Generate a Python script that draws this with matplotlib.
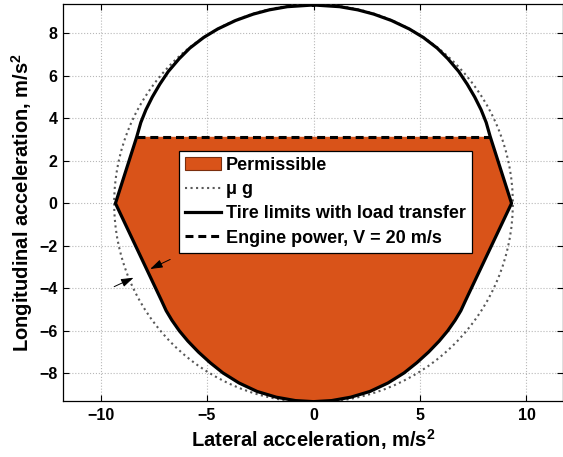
import numpy as np
import matplotlib
matplotlib.use('Agg')
import matplotlib.pyplot as plt
from matplotlib.patches import Circle, Patch
from matplotlib.lines import Line2D

# friction circle radius (mu*g), m/s^2
mu_g = 9.36

# tire limits with load transfer, closed curve clockwise from the top
tire_x = [0.00, 1.23, 2.08, 2.83, 3.66, 4.50, 5.16, 5.81, 6.31, 6.82,
          7.22, 7.57, 7.87, 8.11, 8.30, 9.30, 7.15, 6.92, 6.65, 6.30,
          5.90, 5.40, 4.85, 4.25, 3.50, 2.65, 1.75, 0.85, 0.00,
          -0.85, -1.75, -2.65, -3.50, -4.25, -4.85, -5.40, -5.90, -6.30, -6.65,
          -6.92, -7.15, -9.30, -8.30, -8.11, -7.87, -7.57, -7.22, -6.82, -6.31,
          -5.81, -5.16, -4.50, -3.66, -2.83, -2.08, -1.23, 0.00]
tire_y = [9.33, 9.25, 9.10, 8.90, 8.60, 8.20, 7.80, 7.30, 6.80, 6.20,
          5.60, 5.00, 4.40, 3.80, 3.13, 0.00, -4.55, -5.05, -5.50, -6.00,
          -6.48, -7.00, -7.50, -7.98, -8.45, -8.85, -9.12, -9.28, -9.33,
          -9.28, -9.12, -8.85, -8.45, -7.98, -7.50, -7.00, -6.48, -6.00, -5.50,
          -5.05, -4.55, 0.00, 3.13, 3.80, 4.40, 5.00, 5.60, 6.20, 6.80,
          7.30, 7.80, 8.20, 8.60, 8.90, 9.10, 9.25, 9.33]

# engine power limit at V = 20 m/s
engine_ax = [-8.30, 8.30]
engine_ay = 3.13

# the two small annotation arrows: (tail, head)
arrows = [((-6.73, -2.64), (-7.67, -3.09)),
          ((-9.36, -3.92), (-8.45, -3.50))]

orange = '#D95319'

plt.rcParams['font.family'] = ['Liberation Sans', 'DejaVu Sans']
plt.rcParams['font.weight'] = 'bold'
plt.rcParams['axes.labelweight'] = 'bold'
plt.rcParams['mathtext.fontset'] = 'custom'
plt.rcParams['mathtext.rm'] = 'Liberation Sans:bold'
plt.rcParams['mathtext.it'] = 'Liberation Sans:bold'
plt.rcParams['mathtext.bf'] = 'Liberation Sans:bold'

fig = plt.figure(figsize=(5.63, 4.57), dpi=100)
ax = fig.add_axes([0.1124, 0.1225, 0.887, 0.868])

tx = np.array(tire_x)
ty = np.array(tire_y)
below = ty <= engine_ay + 1e-9
ax.fill(tx[below], ty[below], color=orange, lw=0, zorder=2)

# friction circle, dotted
ax.add_patch(Circle((0, 0), mu_g, fill=False, ls=':', ec='0.35', lw=1.5,
                    zorder=3))
ax.plot(tx, ty, color='k', lw=2.3, solid_joinstyle='round', zorder=4)
ax.plot(engine_ax, [engine_ay, engine_ay], color='k', lw=2.2,
        dashes=(2.6, 1.6), zorder=5)

for tail, head in arrows:
    ax.annotate('', xy=head, xytext=tail,
                arrowprops=dict(arrowstyle='-|>,head_length=0.75,head_width=0.25',
                                color='k', lw=0.7, shrinkA=0, shrinkB=0),
                zorder=6)

ax.set_xlim(-11.75, 11.7)
ax.set_ylim(-9.3, 9.36)
ax.set_xticks([-10, -5, 0, 5, 10])
ax.set_yticks([-8, -6, -4, -2, 0, 2, 4, 6, 8])
ax.grid(True, ls=':', color='0.72', lw=0.8)
ax.set_axisbelow(True)
ax.tick_params(direction='in', top=True, right=True, length=4, width=0.8,
               labelsize=11.5, pad=5)
ax.tick_params(axis='y', pad=4)
for s in ax.spines.values():
    s.set_linewidth(0.9)

ax.set_xlabel('Lateral acceleration, m/s$^2$', fontsize=14.5, labelpad=3)
ax.set_ylabel('Longitudinal acceleration, m/s$^2$', fontsize=14.5, labelpad=3)

handles = [Patch(facecolor=orange, edgecolor='#7a2e0e', lw=0.8),
           Line2D([], [], ls=':', color='0.35', lw=1.5),
           Line2D([], [], color='k', lw=2.3),
           Line2D([], [], color='k', lw=2.2, dashes=(2.6, 1.6))]
labels = ['Permissible', 'μ g', 'Tire limits with load transfer',
          'Engine power, V = 20 m/s']
leg = ax.legend(handles, labels, loc='upper left',
                bbox_to_anchor=(179 / 563, 1 - 150.7 / 457),
                bbox_transform=fig.transFigure, borderaxespad=0,
                fontsize=13, fancybox=False, framealpha=1, edgecolor='k',
                handlelength=2.0, handletextpad=0.25, labelspacing=0.4,
                borderpad=0.35)
leg.get_frame().set_linewidth(0.9)
leg.set_zorder(10)

fig.savefig('out.png', dpi=100)
